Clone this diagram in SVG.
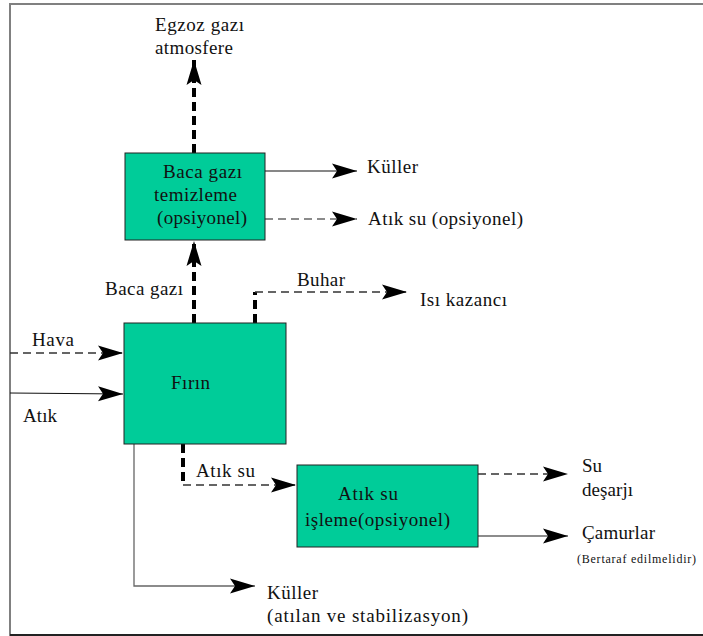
<svg xmlns="http://www.w3.org/2000/svg" width="703" height="636" viewBox="0 0 703 636">
<defs>
<style>
.box{fill:#00CC99;stroke:#222;stroke-width:1}
text{font-family:'Liberation Serif','Times New Roman','DejaVu Serif',serif;font-size:19px;fill:#111}
.s{font-size:12px}
.thick{stroke:#000;stroke-width:4;stroke-dasharray:9,5;fill:none}
.dash{stroke:#333;stroke-width:1.3;stroke-dasharray:8,5;fill:none}
.dashg{stroke:#666;stroke-width:1.3;stroke-dasharray:8,5;fill:none}
.solid{stroke:#111;stroke-width:1.2;fill:none}
.solidg{stroke:#666;stroke-width:1.3;fill:none}
</style>
<marker id="ah" markerUnits="userSpaceOnUse" markerWidth="26" markerHeight="16" refX="25" refY="8" orient="auto" viewBox="0 0 26 16">
<path d="M0,0.5 L25,8 L0,15.5 L5,8 Z" fill="#000"/>
</marker>
</defs>
<g id="frame" fill="none">
<line x1="9" y1="4" x2="703" y2="4" stroke="#808080" stroke-width="2"/>
<line x1="10" y1="4" x2="10" y2="636" stroke="#808080" stroke-width="2"/>
<line x1="10" y1="635" x2="703" y2="635" stroke="#222" stroke-width="2"/>
</g>
<g id="connectors">
<line class="thick" x1="194" y1="153" x2="194" y2="60" marker-end="url(#ah)"/>
<line class="thick" x1="194" y1="323" x2="194" y2="241" marker-end="url(#ah)"/>
<polyline class="thick" points="255,323 255,292"/>
<line class="dash" x1="255" y1="292" x2="407" y2="292" marker-end="url(#ah)"/>
<line class="solid" x1="265" y1="171" x2="357" y2="171" marker-end="url(#ah)"/>
<line class="dashg" x1="265" y1="219" x2="357" y2="219" marker-end="url(#ah)"/>
<line class="dash" x1="10" y1="353" x2="123" y2="353" marker-end="url(#ah)"/>
<line class="solid" x1="10" y1="393" x2="123" y2="394" marker-end="url(#ah)"/>
<polyline class="thick" points="183,444 183,485"/>
<line class="dash" x1="183" y1="485" x2="296" y2="485" marker-end="url(#ah)"/>
<polyline class="solidg" points="134,444 134,586 255,586" marker-end="url(#ah)"/>
<line class="dash" x1="478" y1="474" x2="568" y2="474" marker-end="url(#ah)"/>
<line class="solidg" x1="478" y1="536" x2="568" y2="536" marker-end="url(#ah)"/>
</g>
<g id="baca-gazi-temizleme">
<rect class="box" x="125" y="153" width="140" height="87"/>
<text x="163" y="178" textLength="79" lengthAdjust="spacing">Baca gazı</text>
<text x="154" y="201" textLength="83" lengthAdjust="spacing">temizleme</text>
<text x="157" y="224" textLength="90" lengthAdjust="spacing">(opsiyonel)</text>
</g>
<g id="firin">
<rect class="box" x="124" y="323" width="162" height="121"/>
<text x="171" y="389" textLength="39" lengthAdjust="spacing">Fırın</text>
</g>
<g id="atik-su-isleme">
<rect class="box" x="297" y="465" width="181" height="82"/>
<text x="338" y="500" textLength="60" lengthAdjust="spacing">Atık su</text>
<text x="305" y="526" textLength="145" lengthAdjust="spacing">işleme(opsiyonel)</text>
</g>
<g id="labels">
<text x="155" y="31" textLength="89" lengthAdjust="spacing">Egzoz gazı</text>
<text x="155" y="54" textLength="78" lengthAdjust="spacing">atmosfere</text>
<text x="367" y="173" textLength="51" lengthAdjust="spacing">Küller</text>
<text x="368" y="225" textLength="155" lengthAdjust="spacing">Atık su (opsiyonel)</text>
<text x="297" y="286" textLength="48" lengthAdjust="spacing">Buhar</text>
<text x="420" y="306" textLength="87" lengthAdjust="spacing">Isı kazancı</text>
<text x="105" y="295" textLength="78" lengthAdjust="spacing">Baca gazı</text>
<text x="32" y="346" textLength="42" lengthAdjust="spacing">Hava</text>
<text x="23" y="422" textLength="34" lengthAdjust="spacing">Atık</text>
<text x="196" y="477" textLength="59" lengthAdjust="spacing">Atık su</text>
<text x="267" y="599" textLength="51" lengthAdjust="spacing">Küller</text>
<text x="267" y="622" textLength="201" lengthAdjust="spacing">(atılan ve stabilizasyon)</text>
<text x="582" y="472" textLength="20" lengthAdjust="spacing">Su</text>
<text x="582" y="496" textLength="51" lengthAdjust="spacing">deşarjı</text>
<text x="582" y="539" textLength="73" lengthAdjust="spacing">Çamurlar</text>
<text class="s" x="577" y="563" textLength="119" lengthAdjust="spacing">(Bertaraf edilmelidir)</text>
</g>
</svg>
